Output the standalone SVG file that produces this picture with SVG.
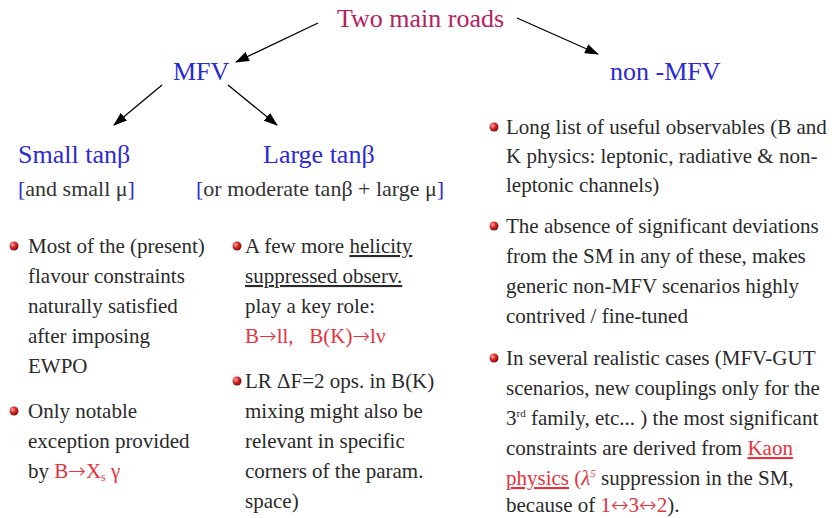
<svg xmlns="http://www.w3.org/2000/svg" width="839" height="518" viewBox="0 0 839 518">
<defs>
<radialGradient id="ball" cx="0.35" cy="0.35" r="0.7">
<stop offset="0" stop-color="#ffb0b0"/>
<stop offset="0.45" stop-color="#e02a2a"/>
<stop offset="1" stop-color="#7a0a0a"/>
</radialGradient>
<marker id="ah" markerWidth="14" markerHeight="10" refX="13" refY="5" orient="auto" markerUnits="userSpaceOnUse">
<path d="M0,0 L14,5 L0,10 Z" fill="#000"/>
</marker>
</defs>
<style>
text{font-family:"Liberation Serif","Times New Roman",serif;}
.head{font-size:26px;}
.root{fill:#b8205c;}
.blue{fill:#2a2ad6;}
.sub{font-size:22px;fill:#333;}
.body{font-size:21px;fill:#2a2a2a;}
.red{fill:#e8303c;}
.arr{font-family:"DejaVu Sans",sans-serif;font-size:21px;font-weight:200;}
.conn line{stroke:#000;stroke-width:1.3;marker-end:url(#ah);}
</style>
<rect width="839" height="518" fill="#fff"/>
<g id="connectors" class="conn">
<line x1="318" y1="23" x2="236" y2="62"/>
<line x1="517" y1="18" x2="598" y2="54"/>
<line x1="162" y1="85" x2="114" y2="125"/>
<line x1="228" y1="85" x2="277" y2="125"/>
</g>
<g id="root"><text class="head root" x="337" y="27">Two main roads</text></g>
<g id="mfv"><text class="head blue" x="173" y="80">MFV</text></g>
<g id="nonmfv"><text class="head blue" x="610" y="80">non -MFV</text></g>
<g id="small">
<text class="head blue" x="18" y="163">Small tanβ</text>
<text class="sub" x="18" y="196"><tspan class="blue">[</tspan>and small μ<tspan class="blue">]</tspan></text>
<circle cx="14" cy="246" r="4.5" fill="url(#ball)"/>
<text class="body" x="28" y="253">Most of the (present)</text>
<text class="body" x="28" y="283">flavour constraints</text>
<text class="body" x="28" y="313">naturally satisfied</text>
<text class="body" x="28" y="343">after imposing</text>
<text class="body" x="28" y="373">EWPO</text>
<circle cx="14" cy="411" r="4.5" fill="url(#ball)"/>
<text class="body" x="28" y="418">Only notable</text>
<text class="body" x="28" y="448">exception provided</text>
<text class="body" x="28" y="478">by <tspan class="red">B<tspan class="arr">→</tspan>X<tspan font-size="12" dy="3">s</tspan><tspan dy="-3"> γ</tspan></tspan></text>
</g>
<g id="large">
<text class="head blue" x="263" y="163">Large tanβ</text>
<text class="sub" x="196" y="196"><tspan class="blue">[</tspan>or moderate tanβ + large μ<tspan class="blue">]</tspan></text>
<circle cx="237" cy="246" r="4.5" fill="url(#ball)"/>
<text class="body" x="245" y="253">A few more <tspan text-decoration="underline">helicity</tspan></text>
<text class="body" x="245" y="283"><tspan text-decoration="underline">suppressed observ.</tspan></text>
<text class="body" x="245" y="313">play a key role:</text>
<text class="body red" x="245" y="343" xml:space="preserve">B<tspan class="arr">→</tspan>ll,   B(K)<tspan class="arr">→</tspan>lν</text>
<circle cx="237" cy="381" r="4.5" fill="url(#ball)"/>
<text class="body" x="245" y="388">LR ΔF=2 ops. in B(K)</text>
<text class="body" x="245" y="418">mixing might also be</text>
<text class="body" x="245" y="448">relevant in specific</text>
<text class="body" x="245" y="478">corners of the param.</text>
<text class="body" x="245" y="508">space)</text>
</g>
<g id="nonmfv-list">
<circle cx="494" cy="127" r="4.5" fill="url(#ball)"/>
<text class="body" x="506" y="134">Long list of useful observables (B and</text>
<text class="body" x="506" y="163">K physics: leptonic, radiative &amp; non-</text>
<text class="body" x="506" y="192">leptonic channels)</text>
<circle cx="494" cy="226" r="4.5" fill="url(#ball)"/>
<text class="body" x="506" y="233">The absence of significant deviations</text>
<text class="body" x="506" y="263">from the SM in any of these, makes</text>
<text class="body" x="506" y="293">generic non-MFV scenarios highly</text>
<text class="body" x="506" y="323">contrived / fine-tuned</text>
<circle cx="494" cy="358" r="4.5" fill="url(#ball)"/>
<text class="body" x="506" y="365">In several realistic cases (MFV-GUT</text>
<text class="body" x="506" y="395">scenarios, new couplings only for the</text>
<text class="body" x="506" y="425">3<tspan font-size="11" dy="-8">rd</tspan><tspan dy="8"> family, etc... ) the most significant</tspan></text>
<text class="body" x="506" y="455">constraints are derived from <tspan class="red" text-decoration="underline">Kaon</tspan></text>
<text class="body" x="506" y="485"><tspan class="red" text-decoration="underline">physics</tspan> <tspan class="red">(<tspan font-style="italic">λ</tspan><tspan font-size="11" font-style="italic" dy="-8">5</tspan></tspan><tspan dy="8"> suppression in the SM,</tspan></text>
<text class="body" x="506" y="512">because of <tspan class="red">1<tspan class="arr">↔</tspan>3<tspan class="arr">↔</tspan>2</tspan>).</text>
</g>
</svg>
